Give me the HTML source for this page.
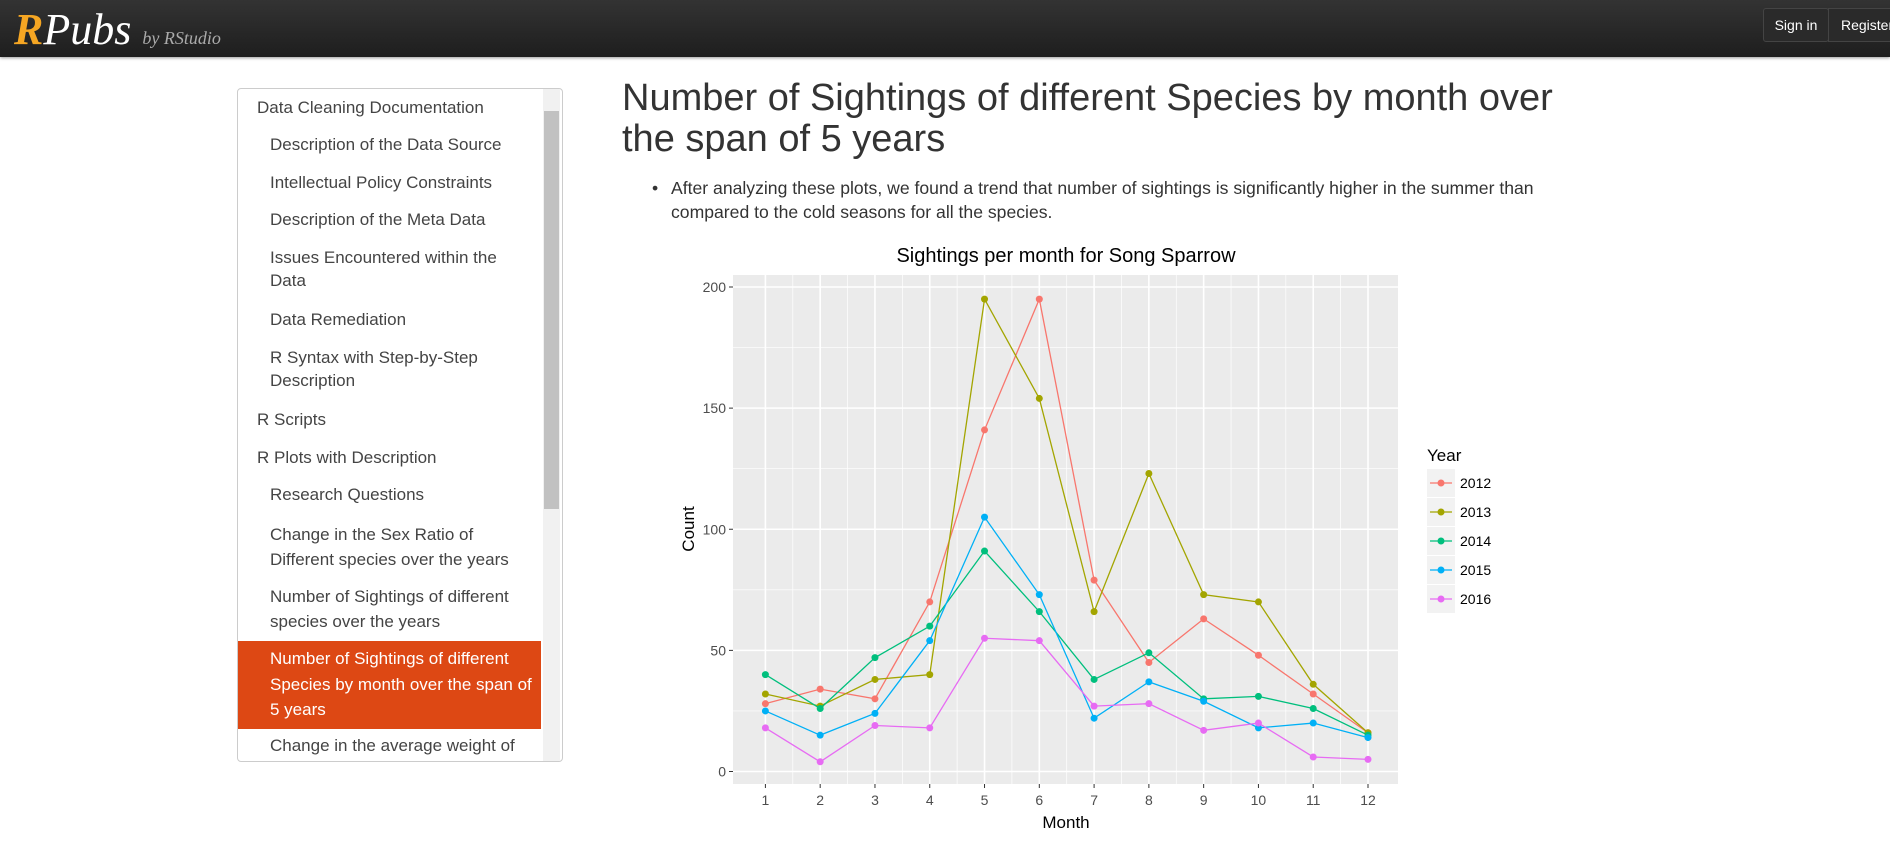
<!DOCTYPE html>
<html><head><meta charset="utf-8">
<style>
body{margin:0;width:1890px;height:841px;overflow:hidden;background:#fff;font-family:"Liberation Sans",sans-serif;position:relative}
.abs{position:absolute}
#hdr{left:0;top:0;width:1890px;height:57px;background:linear-gradient(#333,#1e1e1e);box-shadow:0 1px 3px rgba(0,0,0,.4)}
.nav{position:absolute;left:257px;font-size:17px;color:#444;white-space:nowrap;line-height:20px}
.nav.sub{left:270px}
</style></head><body>
<div id="hdr" class="abs">
 <div class="abs" style="left:14px;top:4px;font-size:44px;font-family:'Liberation Serif',serif;font-style:italic;color:#fff"><b style="color:#f5a623">R</b>Pubs <span style="font-size:18px;color:#aaa">by RStudio</span></div>
 <div class="abs" style="left:1763px;top:8px;width:64px;height:32px;background:#2a2a2a;border:1px solid #444;border-radius:3px;color:#fff;font-size:14px;line-height:32px;text-align:center">Sign in</div>
 <div class="abs" style="left:1828px;top:8px;width:70px;height:32px;background:#2a2a2a;border:1px solid #444;color:#fff;font-size:14px;line-height:32px;padding-left:12px">Register</div>
</div>

<div class="abs" style="left:237px;top:88px;width:324px;height:672px;border:1px solid #ccc;border-radius:4px;overflow:hidden">
 <div class="abs" style="left:305px;top:0;width:17px;height:672px;background:#f1f1f1"></div>
 <div class="abs" style="left:306px;top:22px;width:15px;height:398px;background:#c1c1c1"></div>
 <div class="abs" style="left:0;top:552px;width:303px;height:88px;background:#dd4814"></div>
</div>
<div>
<div class="nav" style="top:98px">Data Cleaning Documentation</div>
<div class="nav sub" style="top:135px">Description of the Data Source</div>
<div class="nav sub" style="top:173px">Intellectual Policy Constraints</div>
<div class="nav sub" style="top:210px">Description of the Meta Data</div>
<div class="nav sub" style="top:248px">Issues Encountered within the<br><span style="line-height:25px">Data</span></div>
<div class="nav sub" style="top:310px">Data Remediation</div>
<div class="nav sub" style="top:348px">R Syntax with Step-by-Step<br><span style="line-height:25px">Description</span></div>
<div class="nav" style="top:410px">R Scripts</div>
<div class="nav" style="top:448px">R Plots with Description</div>
<div class="nav sub" style="top:485px">Research Questions</div>
<div class="nav sub" style="top:522px;line-height:25px">Change in the Sex Ratio of<br>Different species over the years</div>
<div class="nav sub" style="top:584px;line-height:25px">Number of Sightings of different<br>species over the years</div>
<div class="nav sub" style="top:646px;line-height:25.5px;color:#fff">Number of Sightings of different<br>Species by month over the span of<br>5 years</div>
<div class="nav sub" style="top:736px">Change in the average weight of</div>
</div>

<div class="abs" style="left:622px;top:78px;font-size:38px;line-height:41px;color:#333">Number of Sightings of different Species by month over<br>the span of 5 years</div>
<div class="abs" style="left:652px;top:176px;font-size:17.6px;line-height:24px;color:#333"><span style="position:absolute;left:0">•</span><div style="margin-left:19px">After analyzing these plots, we found a trend that number of sightings is significantly higher in the summer than<br>compared to the cold seasons for all the species.</div></div>

<svg class="abs" style="left:0;top:0" width="1890" height="841" font-family="Liberation Sans, sans-serif">
<g id="chart"></g>
</svg>
<script>
const months=[1,2,3,4,5,6,7,8,9,10,11,12];
const years=["2012","2013","2014","2015","2016"];
const s2012=[28,34,30,70,141,195,79,45,63,48,32,16];
const s2013=[32,27,38,40,195,154,66,123,73,70,36,16];
const s2014=[40,26,47,60,91,66,38,49,30,31,26,15];
const s2015=[25,15,24,54,105,73,22,37,29,18,20,14];
const s2016=[18,4,19,18,55,54,27,28,17,20,6,5];
const yTicks=[0,50,100,150,200];
const series=[s2012,s2013,s2014,s2015,s2016];
const colors=["#F8766D","#A3A500","#00BF7D","#00B0F6","#E76BF3"];
const NS="http://www.w3.org/2000/svg";
const g=document.getElementById('chart');
const P={l:733,r:1398,t:275,b:784};
const X=m=>765.4+(m-1)*(1368-765.4)/11;
const Y=v=>771.5-v*(771.5-287)/200;
function mk(t,a,p){const e=document.createElementNS(NS,t);for(const k in a)e.setAttribute(k,a[k]);(p||g).appendChild(e);return e;}
let e=mk('rect',{x:P.l,y:P.t,width:P.r-P.l,height:P.b-P.t,fill:'#EBEBEB'});


for(let i=0;i<yTicks.length-1;i++){const v=(yTicks[i]+yTicks[i+1])/2;mk('line',{x1:P.l,x2:P.r,y1:Y(v),y2:Y(v),stroke:'#fff','stroke-width':0.7});}
for(let i=0;i<months.length-1;i++){const m=(months[i]+months[i+1])/2;mk('line',{x1:X(m),x2:X(m),y1:P.t,y2:P.b,stroke:'#fff','stroke-width':0.7});}
yTicks.forEach(v=>{mk('line',{x1:P.l,x2:P.r,y1:Y(v),y2:Y(v),stroke:'#fff','stroke-width':1.6});
 mk('line',{x1:P.l-4,x2:P.l,y1:Y(v),y2:Y(v),stroke:'#333'});
 const t=mk('text',{x:P.l-7,y:Y(v)+5,'text-anchor':'end','font-size':14,fill:'#4d4d4d'});t.textContent=v;
 
 });
months.forEach(m=>{mk('line',{x1:X(m),x2:X(m),y1:P.t,y2:P.b,stroke:'#fff','stroke-width':1.6});
 mk('line',{x1:X(m),x2:X(m),y1:P.b,y2:P.b+4,stroke:'#333'});
 const t=mk('text',{x:X(m),y:P.b+21,'text-anchor':'middle','font-size':14,fill:'#4d4d4d'});t.textContent=m;
 
 });
series.forEach((s,i)=>{
 const l=mk('polyline',{points:s.map((v,j)=>X(months[j])+','+Y(v)).join(' '),fill:'none',stroke:colors[i],'stroke-width':1.3});
 
 
 s.forEach((v,j)=>{const c=mk('circle',{cx:X(months[j]),cy:Y(v),r:3.5,fill:colors[i]});
  
  });
});
let t=mk('text',{x:1066,y:262,'text-anchor':'middle','font-size':20,fill:'#000'});t.textContent='Sightings per month for Song Sparrow';


t=mk('text',{x:1066,y:828,'text-anchor':'middle','font-size':17,fill:'#000'});t.textContent='Month';


t=mk('text',{x:0,y:0,'text-anchor':'middle','font-size':17,fill:'#000',transform:'translate(694,529) rotate(-90)'});t.textContent='Count';


t=mk('text',{x:1427,y:461,'font-size':17,fill:'#000'});t.textContent='Year';


years.forEach((y,i)=>{const cy=483+i*29;
 mk('rect',{x:1427,y:cy-14,width:28,height:28,fill:'#F2F2F2'});
 mk('line',{x1:1430,x2:1452,y1:cy,y2:cy,stroke:colors[i],'stroke-width':1.3});
 mk('circle',{cx:1441,cy:cy,r:3.5,fill:colors[i]});
 const tt=mk('text',{x:1460,y:cy+5,'font-size':14,fill:'#000'});tt.textContent=y;
 
 });
</script>
</body></html>
